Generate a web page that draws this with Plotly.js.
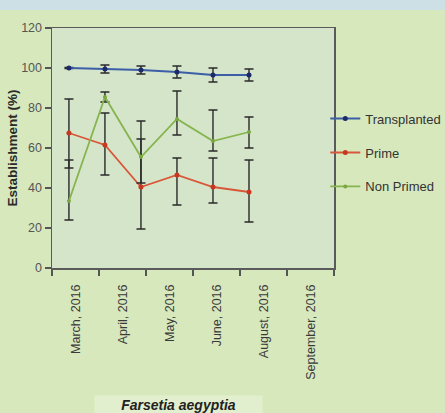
<!DOCTYPE html>
<html>
<head>
<meta charset="utf-8">
<script src="https://cdn.plot.ly/plotly-3.0.1.min.js"></script>
<style>html,body{margin:0;padding:0;background:#d7e8bd;}#chart{width:445px;height:413px;}</style>
</head>
<body>
<div id="chart"></div>
<script>
var months = ['March, 2016','April, 2016','May, 2016','June, 2016','August, 2016','September, 2016'];
var seriesNames = ['Transplanted','Prime','Non Primed'];

var transplanted = [100, 99.5, 99, 98, 96.5, 96.5];
var transplantedErr = [0.3, 2, 2, 3, 3.5, 3];

var prime = [67.5, 61.5, 40.5, 46.5, 40.5, 38];
var primeErrPlus = [17, 16, 24, 8.5, 14.5, 16];
var primeErrMinus = [17.5, 15, 21, 15, 8, 15];

var nonPrimed = [33.5, 85.5, 55.5, 74.5, 63.5, 68];
var nonPrimedErrPlus = [20.5, 2.5, 18, 14, 15.5, 7.5];
var nonPrimedErrMinus = [9.5, 2.5, 13, 8, 5, 8];

var FONT = 'Liberation Sans, Arial, sans-serif';
var errStyle = {thickness: 1.4, width: 4.5, color: '#2a2a2a'};

function errBar(plus, minus) {
  return Object.assign({type: 'data', symmetric: false, array: plus, arrayminus: minus, visible: true}, errStyle);
}

var traces = [
  {
    x: months, y: transplanted, name: seriesNames[0], type: 'scatter', mode: 'lines+markers',
    legendgroup: 'a',
    line: {color: '#3b5ea6', width: 2},
    marker: {color: '#1c2a6b', size: 5},
    error_y: errBar(transplantedErr, transplantedErr)
  },
  {
    x: months, y: prime, name: seriesNames[1], type: 'scatter', mode: 'lines+markers',
    legendgroup: 'b',
    line: {color: '#d8573a', width: 1.8},
    marker: {color: '#c7381f', size: 5},
    error_y: errBar(primeErrPlus, primeErrMinus)
  },
  {
    x: months, y: nonPrimed, name: seriesNames[2], type: 'scatter', mode: 'lines+markers',
    legendgroup: 'c',
    line: {color: '#86b44e', width: 1.8},
    marker: {color: '#78a83f', size: 4},
    error_y: errBar(nonPrimedErrPlus, nonPrimedErrMinus)
  },
  {
    x: months, y: months.map(function(){return null;}), xaxis: 'x2', type: 'scatter', mode: 'markers',
    showlegend: false, hoverinfo: 'skip', marker: {opacity: 0}
  }
];

var layout = {
  width: 445, height: 413,
  paper_bgcolor: '#d7e8bd',
  plot_bgcolor: '#d5e5ca',
  margin: {l: 52, r: 111, t: 28, b: 145, pad: 0, autoexpand: false},
  showlegend: true,
  legend: {
    xref: 'container', yref: 'container',
    x: 0.731, xanchor: 'left', y: 0.749, yanchor: 'top',
    bgcolor: 'rgba(0,0,0,0)', traceorder: 'grouped', tracegroupgap: 14,
    font: {family: FONT, size: 13, color: '#333333'}
  },
  xaxis: {
    type: 'category', categoryorder: 'array', categoryarray: months,
    range: [-0.47, 7.36], visible: false, fixedrange: true
  },
  xaxis2: {
    type: 'category', categoryorder: 'array', categoryarray: months,
    overlaying: 'x', anchor: 'y', side: 'bottom',
    range: [-0.5, 5.5], tickson: 'boundaries',
    ticks: 'outside', ticklen: 6, tickwidth: 1.3, tickcolor: '#555',
    showline: true, linecolor: '#5a5a5a', linewidth: 1.5, mirror: true,
    showgrid: false, zeroline: false,
    tickangle: -90, ticklabelstandoff: 10,
    tickfont: {family: FONT, size: 12.5, color: '#3a3a3a'}
  },
  yaxis: {
    range: [0, 120], dtick: 20, tick0: 0,
    ticks: 'outside', ticklen: 6, tickwidth: 1.3, tickcolor: '#555',
    showline: true, linecolor: '#5a5a5a', linewidth: 1.5, mirror: true,
    showgrid: false, zeroline: false,
    tickfont: {family: FONT, size: 12.5, color: '#555555'},
    title: {text: '<b>Establishment (%)</b>', standoff: 0, font: {family: FONT, size: 13.5, color: '#2a2a2a'}}
  },
  shapes: [
    {type: 'rect', xref: 'paper', yref: 'paper', x0: -0.5, x1: 2, y0: 1.075, y1: 1.3,
     fillcolor: '#cde0e6', line: {width: 0}, layer: 'below'}
  ],
  annotations: [
    {text: '<b><i>Farsetia aegyptia</i></b>', xref: 'paper', yref: 'paper',
     x: 0.447, y: -0.57, xanchor: 'center', yanchor: 'middle', showarrow: false,
     bgcolor: '#e2efce', width: 165, height: 16,
     font: {family: FONT, size: 14, color: '#222222'}}
  ]
};

Plotly.newPlot('chart', traces, layout, {staticPlot: true, displayModeBar: false});
</script>
</body>
</html>
